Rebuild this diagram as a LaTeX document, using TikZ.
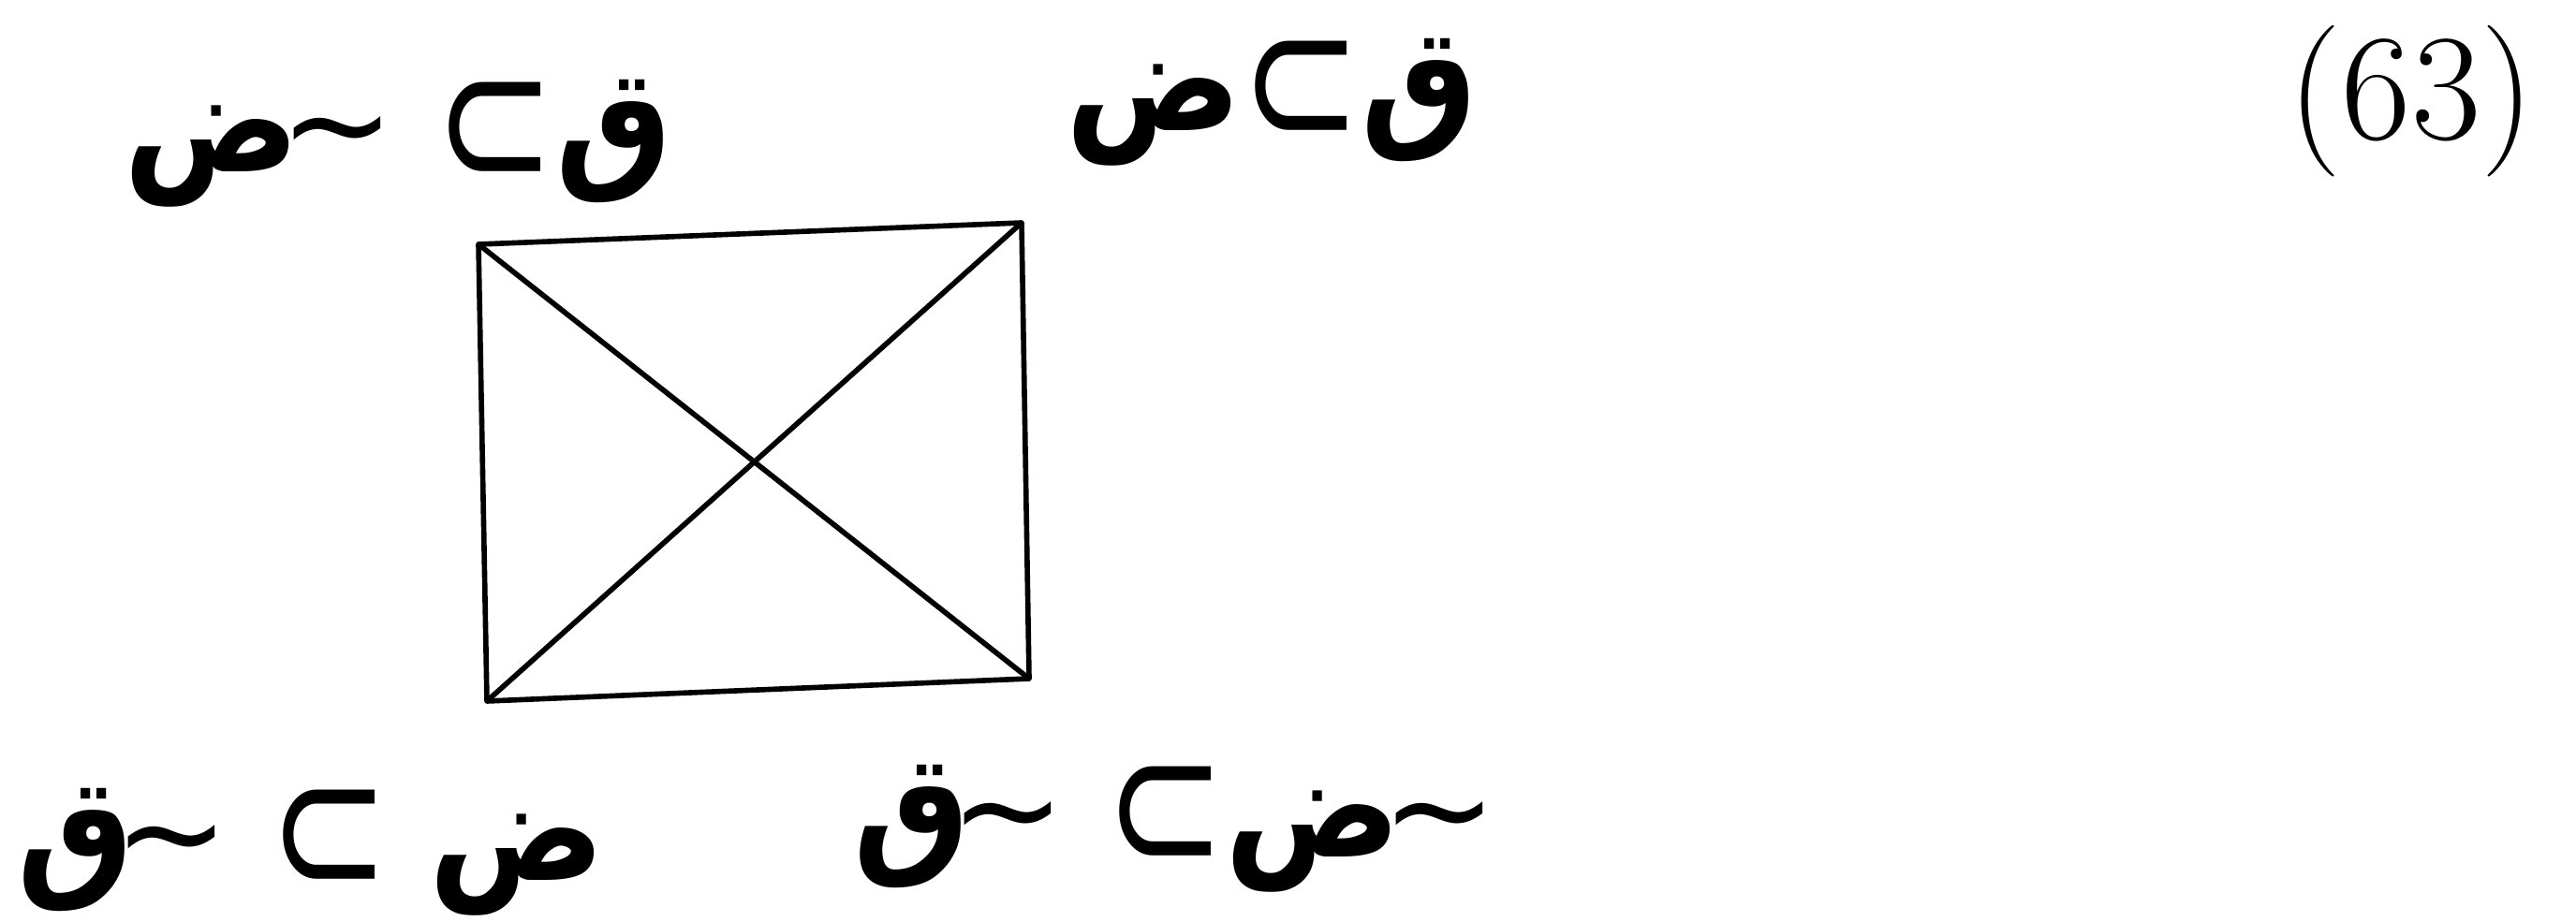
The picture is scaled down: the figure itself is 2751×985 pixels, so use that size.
\documentclass[tikz,border=0pt]{standalone}
\usepackage{fontspec}
\usepackage{tikz}
\TeXXeTstate=1
\newfontfamily\arabicfont[Script=Arabic, FakeStretch=0.9]{DejaVu Sans}
\newfontfamily\symfont{DejaVu Sans}
\newfontfamily\subfont[FakeStretch=0.75]{DejaVu Sans}
\newcommand{\labsize}{\fontsize{40}{48}\selectfont}
\newcommand{\tallsize}{\fontsize{44}{52}\selectfont}
\newcommand{\numsize}{\fontsize{46}{54}\selectfont}
\newcommand{\qaf}{{\tallsize\arabicfont\bfseries ق}}
\newcommand{\dad}{{\tallsize\arabicfont\bfseries ض}}
\newcommand{\subs}{\lower4.5pt\hbox{\fontsize{58}{60}\selectfont\subfont ⊂}}
\newcommand{\nott}{{\fontsize{42}{48}\selectfont\symfont\char"7E}\kern-6pt}

\begin{document}
\begin{tikzpicture}[x=0.01cm,y=-0.01cm,
    corner/.style={font=\labsize, inner sep=0pt, anchor=base},
    edge/.style={line width=1.6pt, line join=round}]
  \useasboundingbox (0,0) rectangle (2751,985);
  % corners of the square
  \coordinate (tl) at (511,261);
  \coordinate (tr) at (1091,238);
  \coordinate (br) at (1099,725);
  \coordinate (bl) at (520,749);
  \draw[edge] (tl) -- (tr) -- (br) -- (bl) -- cycle;
  \draw[edge] (tl) -- (br);
  \draw[edge] (tr) -- (bl);
  % corner labels
  \node[corner] (ltl) at (425,184) {\beginR\qaf\subs\ \nott\dad\endR};
  \node[corner] (ltr) at (1358,140) {\beginR\qaf\subs\dad\endR};
  \node[corner] (lbl) at (332,940) {\beginR\dad\ \subs\ \nott\qaf\endR};
  \node[corner] (lbr) at (1255,915) {\beginR\nott\dad\subs\ \nott\qaf\endR};
  \node[font=\numsize, inner sep=0pt] (num) at (2575,108) {(63)};
\end{tikzpicture}
\end{document}
